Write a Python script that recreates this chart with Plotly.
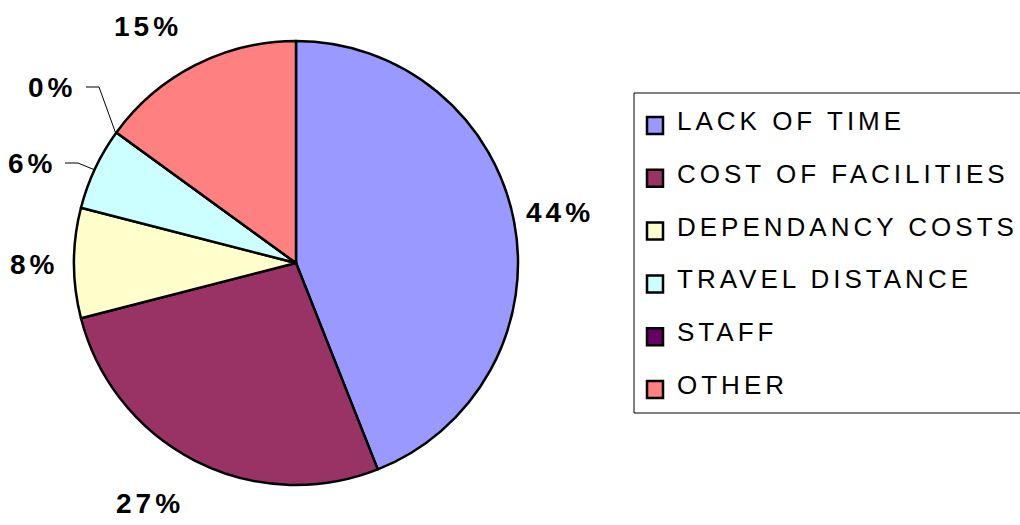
import plotly.graph_objects as go

categories = ["LACK OF TIME", "COST OF FACILITIES", "DEPENDANCY COSTS", "TRAVEL DISTANCE", "STAFF", "OTHER"]
values = [44, 27, 8, 6, 0, 15]
colors = ["#9999FF", "#993366", "#FFFFCC", "#CCFFFF", "#660066", "#FF8080"]

W, H = 1020, 525
FONT = "Liberation Sans, Arial, sans-serif"

def px(x):
    return x / W

def py(y):
    return 1 - y / H

cx, cy, r = 296, 263, 222

fig = go.Figure()
fig.add_trace(go.Pie(
    labels=categories, values=values, sort=False, direction="clockwise", rotation=0,
    marker=dict(colors=colors, line=dict(color="black", width=2.5)),
    textinfo="none", hoverinfo="label+percent", showlegend=False,
    domain=dict(x=[px(cx - r), px(cx + r)], y=[py(cy + r), py(cy - r)]),
))

# percentage labels (layout positions for each slice label)
label_pos = [(560, 212), (150, 503), (34, 264), (32, 163), (52, 88), (148, 26)]
annotations = []
for v, (lx, ly) in zip(values, label_pos):
    annotations.append(dict(x=px(lx), y=py(ly), xref="paper", yref="paper", showarrow=False,
                            text=f"{v}%", xanchor="center", yanchor="middle", align="center",
                            font=dict(family=FONT, size=28, color="black", weight="bold")))

shapes = []
# leader lines for small slices
shapes.append(dict(type="path", xref="paper", yref="paper",
                   path=f"M {px(86)} {py(87)} L {px(99)} {py(87)} L {px(116)} {py(134)}",
                   line=dict(color="black", width=1)))
shapes.append(dict(type="path", xref="paper", yref="paper",
                   path=f"M {px(65)} {py(163)} L {px(78)} {py(163)} L {px(95)} {py(170)}",
                   line=dict(color="black", width=1)))

# legend box
shapes.append(dict(type="rect", xref="paper", yref="paper", x0=px(634), x1=px(1040), y0=py(413), y1=py(93),
                   line=dict(color="black", width=1), fillcolor="rgba(0,0,0,0)"))
row0, gap = 121, 52.8
for i, (c, col) in enumerate(zip(categories, colors)):
    yc = row0 + gap * i
    shapes.append(dict(type="rect", xref="paper", yref="paper", x0=px(647), x1=px(663),
                       y0=py(yc + 13), y1=py(yc - 4), fillcolor=col, line=dict(color="black", width=2.5)))
    annotations.append(dict(x=px(675), y=py(yc), xref="paper", yref="paper", showarrow=False,
                            text=c, xanchor="left", yanchor="middle", align="left",
                            font=dict(family=FONT, size=26, color="black")))

fig.update_layout(width=W, height=H, margin=dict(l=0, r=0, t=0, b=0),
                  paper_bgcolor="white", plot_bgcolor="white",
                  shapes=shapes, annotations=annotations, showlegend=False)

post = """
document.body.style.margin = '0';
document.body.style.overflow = 'hidden';
document.documentElement.style.overflow = 'hidden';
var gd = document.getElementById('{plot_id}');
gd.querySelectorAll('.annotation-text').forEach(function (t) {
  t.style.letterSpacing = '4px';
});
"""

fig.write_html("out.html", post_script=post, config={"displayModeBar": False})
